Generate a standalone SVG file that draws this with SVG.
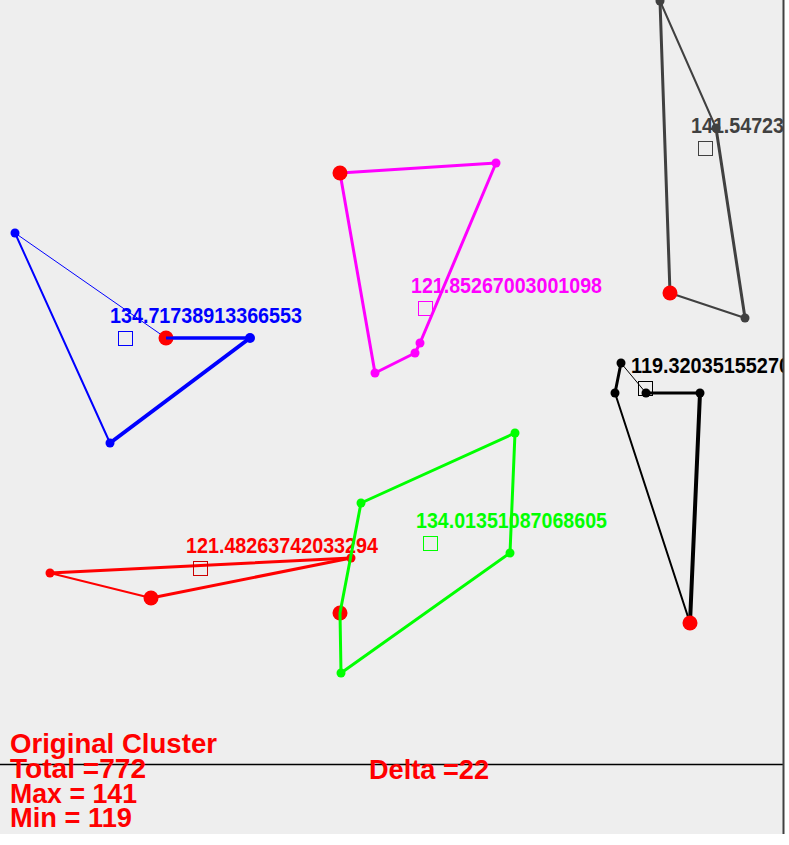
<svg xmlns="http://www.w3.org/2000/svg" width="789" height="845" viewBox="0 0 789 845">
  <style>
    .edge { fill: none; stroke-linecap: round; stroke-linejoin: round; }
    .lbl { font-family: "Liberation Sans", Arial, sans-serif; font-weight: bold; font-size: 22px; }
    .info { font-family: "Liberation Sans", Arial, sans-serif; font-weight: bold; font-size: 28px; fill: #ff0000; }
    .ctr { fill: none; stroke-width: 1; }
    .head { fill: #ff0000; }
  </style>
  <defs>
    <clipPath id="panel">
      <rect x="0" y="0" width="783" height="834"/>
    </clipPath>
  </defs>

  <!-- background panel -->
  <rect x="0" y="0" width="789" height="845" fill="#ffffff"/>
  <rect x="0" y="0" width="783" height="834" fill="#eeeeee"/>

  <g clip-path="url(#panel)">
    <!-- blue cluster -->
    <g id="cluster-blue">
      <g class="edge" stroke="#0000ff">
        <line x1="15" y1="233" x2="110" y2="443" stroke-width="2"/>
        <line x1="110" y1="443" x2="250" y2="338" stroke-width="4"/>
        <line x1="250" y1="338" x2="166" y2="338" stroke-width="3"/>
        <line x1="166" y1="338" x2="15" y2="233" stroke-width="1"/>
      </g>
      <g fill="#0000ff">
        <circle cx="15" cy="233" r="4.5"/>
        <circle cx="110" cy="443" r="4.5"/>
        <circle cx="250" cy="338" r="5"/>
      </g>
      <circle class="head" cx="166" cy="338" r="7.5"/>
      <line x1="166" y1="338" x2="250" y2="338" stroke="#0000ff" stroke-width="3"/>
      <rect class="ctr" stroke="#0000ff" x="118.5" y="331.5" width="14" height="14"/>
      <text class="lbl" fill="#0000ff" x="110" y="323" textLength="192" lengthAdjust="spacingAndGlyphs">134.71738913366553</text>
    </g>

    <!-- magenta cluster -->
    <g id="cluster-magenta">
      <g class="edge" stroke="#ff00ff" stroke-width="3">
        <polyline points="340,173 496,163 420,343 415,353 375,373 340,173"/>
      </g>
      <g fill="#ff00ff">
        <circle cx="496" cy="163" r="4.5"/>
        <circle cx="420" cy="343" r="4.5"/>
        <circle cx="415" cy="353" r="4.5"/>
        <circle cx="375" cy="373" r="4.5"/>
      </g>
      <circle class="head" cx="340" cy="173" r="7.5"/>
      <rect class="ctr" stroke="#ff00ff" x="418.5" y="301.5" width="14" height="14"/>
      <text class="lbl" fill="#ff00ff" x="411" y="293" textLength="191" lengthAdjust="spacingAndGlyphs">121.85267003001098</text>
    </g>

    <!-- grey cluster -->
    <g id="cluster-grey">
      <g class="edge" stroke="#404040">
        <line x1="660" y1="1" x2="670" y2="293" stroke-width="3"/>
        <line x1="670" y1="293" x2="745" y2="318" stroke-width="2"/>
        <line x1="745" y1="318" x2="716" y2="128" stroke-width="3"/>
        <line x1="716" y1="128" x2="660" y2="1" stroke-width="2"/>
      </g>
      <text class="lbl" fill="#404040" x="691" y="133" textLength="93" lengthAdjust="spacingAndGlyphs">141.54723</text>
      <g fill="#404040">
        <circle cx="660" cy="1" r="4.5"/>
        <circle cx="716" cy="128" r="4.5"/>
        <circle cx="745" cy="318" r="4.5"/>
      </g>
      <circle class="head" cx="670" cy="293" r="7.5"/>
      <rect class="ctr" stroke="#404040" x="698.5" y="141.5" width="14" height="14"/>
    </g>

    <!-- black cluster -->
    <g id="cluster-black">
      <g class="edge" stroke="#000000">
        <line x1="621" y1="363" x2="615" y2="393" stroke-width="3"/>
        <line x1="615" y1="393" x2="690" y2="623" stroke-width="2"/>
        <line x1="690" y1="623" x2="700" y2="393" stroke-width="4"/>
        <line x1="700" y1="393" x2="646" y2="393" stroke-width="3"/>
        <line x1="646" y1="393" x2="621" y2="363" stroke-width="1"/>
      </g>
      <g fill="#000000">
        <circle cx="621" cy="363" r="4.5"/>
        <circle cx="615" cy="393" r="4.5"/>
        <circle cx="646" cy="393" r="4.5"/>
        <circle cx="700" cy="393" r="4.5"/>
      </g>
      <circle class="head" cx="690" cy="623" r="7.5"/>
      <rect class="ctr" stroke="#000000" x="638.5" y="381.5" width="14" height="14"/>
      <text class="lbl" fill="#000000" x="631" y="373" textLength="159" lengthAdjust="spacingAndGlyphs">119.32035155270</text>
    </g>

    <!-- red cluster -->
    <g id="cluster-red">
      <g class="edge" stroke="#ff0000">
        <line x1="50" y1="573" x2="351" y2="558" stroke-width="3"/>
        <line x1="351" y1="558" x2="151" y2="598" stroke-width="3"/>
        <line x1="151" y1="598" x2="50" y2="573" stroke-width="2"/>
      </g>
      <g fill="#ff0000">
        <circle cx="50" cy="573" r="4.5"/>
        <circle cx="351" cy="558" r="4.5"/>
      </g>
      <circle class="head" cx="151" cy="598" r="7.5"/>
      <rect class="ctr" stroke="#cc0000" x="193.5" y="561.5" width="14" height="14"/>
      <text class="lbl" fill="#ff0000" x="186" y="553" textLength="192" lengthAdjust="spacingAndGlyphs">121.48263742033294</text>
    </g>

    <!-- green cluster -->
    <g id="cluster-green">
      <circle class="head" cx="340" cy="613" r="7.5"/>
      <g class="edge" stroke="#00ff00" stroke-width="3">
        <polyline points="515,433 361,503 340,613 341,673 510,553 515,433"/>
      </g>
      <g fill="#00ff00">
        <circle cx="515" cy="433" r="4.5"/>
        <circle cx="361" cy="503" r="4.5"/>
        <circle cx="510" cy="553" r="4.5"/>
        <circle cx="341" cy="673" r="4.5"/>
      </g>
      <rect class="ctr" stroke="#00ff00" x="423.5" y="536.5" width="14" height="14"/>
      <text class="lbl" fill="#00ff00" x="416" y="528" textLength="191" lengthAdjust="spacingAndGlyphs">134.01351087068605</text>
    </g>
  </g>

  <!-- frame lines -->
  <g id="frame">
    <line x1="0" y1="764.5" x2="783" y2="764.5" stroke="#000000" stroke-width="1.5"/>
    <line x1="783.5" y1="0" x2="783.5" y2="834" stroke="#404040" stroke-width="2"/>
  </g>

  <!-- summary -->
  <g id="summary">
    <text class="info" x="10" y="753" textLength="207" lengthAdjust="spacingAndGlyphs">Original Cluster</text>
    <text class="info" x="10" y="778" textLength="136" lengthAdjust="spacingAndGlyphs">Total =772</text>
    <text class="info" x="10" y="803" textLength="127" lengthAdjust="spacingAndGlyphs">Max = 141</text>
    <text class="info" x="10" y="827" textLength="122" lengthAdjust="spacingAndGlyphs">Min = 119</text>
    <text class="info" x="369" y="779" textLength="120" lengthAdjust="spacingAndGlyphs">Delta =22</text>
  </g>
</svg>
